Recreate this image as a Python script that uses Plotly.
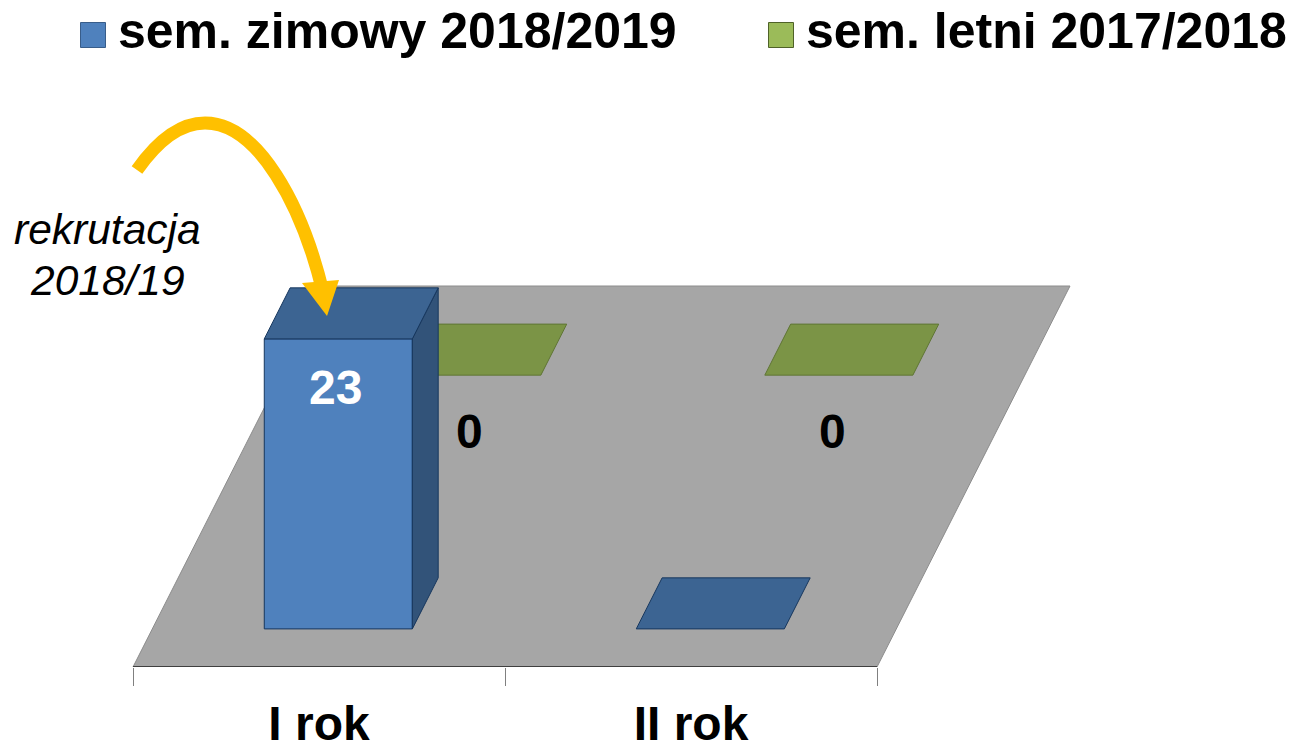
import plotly.graph_objects as go

# ---- data ----
categories = ["I rok", "II rok"]
series_names = ["sem. zimowy 2018/2019", "sem. letni 2017/2018"]
zimowy_values = [23, 0]
letni_values = [0, 0]
caption_lines = ["rekrutacja", "2018/19"]

# ---- oblique "3D" projection: (category position, depth, value) -> plot units ----
W, H, AXIS_PX = 1301, 751, 667
X0, CAT_W = 133, 372
DEPTH_DX, DEPTH_DY = 193, 381      # floor's receding edge
UNIT = 290 / 23                    # height of one value unit
BAR_OFFSET, BAR_W = 0.301, 0.398   # within one category
ROWS = {0: (0.100, 0.234), 1: (0.766, 0.900)}  # depth span of each series

def project(cat, depth, value=0):
    return (X0 + CAT_W * cat + DEPTH_DX * depth, DEPTH_DY * depth + UNIT * value)

def poly(points, fill, line="rgba(20,40,70,0.75)", width=1):
    xs, ys = zip(*points)
    return go.Scatter(x=list(xs) + [xs[0]], y=list(ys) + [ys[0]], mode="lines", fill="toself",
                      fillcolor=fill, line=dict(color=line, width=width),
                      hoverinfo="skip", showlegend=False)

def bar(i, row, value, front, top, side, line):
    c0, c1 = i + BAR_OFFSET, i + BAR_OFFSET + BAR_W
    d0, d1 = ROWS[row]
    out = []
    if value > 0:
        out.append(poly([project(c0, d0), project(c1, d0), project(c1, d0, value), project(c0, d0, value)], front, line))
        out.append(poly([project(c1, d0), project(c1, d1), project(c1, d1, value), project(c1, d0, value)], side, line))
    out.append(poly([project(c0, d0, value), project(c1, d0, value), project(c1, d1, value), project(c0, d1, value)], top, line))
    return out

fig = go.Figure()

# floor
fig.add_trace(poly([project(0, 0), project(len(categories), 0), project(len(categories), 1), project(0, 1)],
                   "#a6a6a6", "#8c8c8c", 1))

# floor's front edge acts as the axis line
edge = [project(0, 0), project(len(categories), 0)]
fig.add_trace(go.Scatter(x=[p[0] for p in edge], y=[p[1] for p in edge], mode="lines",
                         line=dict(color="#222222", width=1.5), hoverinfo="skip", showlegend=False, cliponaxis=False))

# back series first, then front series
for i, v in enumerate(letni_values):
    for t in bar(i, 1, v, "#9bbb59", "#7b9446", "#66803a", "#5f7534"):
        fig.add_trace(t)
for i, v in enumerate(zimowy_values):
    for t in bar(i, 0, v, "#4f81bd", "#3c6492", "#325379", "#17375e"):
        fig.add_trace(t)

# data labels
for i, v in enumerate(zimowy_values):
    if v > 0:
        x, y = project(i + BAR_OFFSET + BAR_W / 2, ROWS[0][0], v)
        fig.add_annotation(x=x, y=y, text=str(v), showarrow=False, yshift=-49, xshift=-3,
                           font=dict(family="Liberation Sans", size=48, color="white", weight="bold"))
for i, v in enumerate(letni_values):
    x, y = project(i + BAR_OFFSET + BAR_W / 2, ROWS[1][0], v)
    fig.add_annotation(x=x, y=y, text=str(v), showarrow=False, yshift=-56, xshift=3 - 9 * i,
                       font=dict(family="Liberation Sans", size=48, color="black", weight="bold"))

# annotation: curved arrow and its caption
def py(v):
    return AXIS_PX - v

# legend entries: swatch plus series name, placed in the band above the chart
legend_x = [93, 781]
legend_colors = ["#4f81bd", "#9bbb59"]
legend_edges = ["#385d8a", "#4f6228"]
for lx, name, color, edge_c in zip(legend_x, series_names, legend_colors, legend_edges):
    fig.add_trace(go.Scatter(x=[lx], y=[py(35)], mode="markers+text", text=["\u2006" + name],
                             textposition="middle right", showlegend=False, hoverinfo="skip", cliponaxis=False,
                             marker=dict(symbol="square", size=25, color=color, line=dict(color=edge_c, width=1)),
                             textfont=dict(family="Liberation Sans", size=50, color="black", weight="bold")))

arrow = (f"M137,{py(170)} Q170,{py(123)} 205,{py(123)} C258,{py(123)} 302,{py(205)} 323,{py(292)}")
head = f"M302,{py(283)} L339,{py(280)} L327,{py(316)} Z"
fig.add_shape(type="path", path=arrow, xref="x", yref="y", line=dict(color="#ffc000", width=13), layer="above")
fig.add_shape(type="path", path=head, xref="x", yref="y", line=dict(color="#ffc000", width=0),
              fillcolor="#ffc000", layer="above")
for line_text, line_y in zip(caption_lines, [229, 280]):
    fig.add_annotation(x=107, y=py(line_y), text=f"<i>{line_text}</i>", showarrow=False,
                       font=dict(family="Liberation Sans", size=42.5, color="black"), align="center")

centres = [X0 + CAT_W * (i + 0.5) for i in range(len(categories))]
bounds = [X0 + CAT_W * i for i in range(len(categories) + 1)]

fig.update_layout(
    width=W, height=H, margin=dict(l=0, r=0, t=0, b=H - AXIS_PX, autoexpand=False),
    paper_bgcolor="white", plot_bgcolor="white",
    font=dict(family="Liberation Sans"),
    xaxis=dict(range=[0, W], showgrid=False, zeroline=False, showline=False, automargin=False,
               tickmode="array", tickvals=centres, ticktext=categories, ticks="", ticklabelstandoff=24,
               tickfont=dict(size=48, color="black", weight="bold"),
               minor=dict(tickmode="array", tickvals=bounds, ticks="outside", ticklen=18, tickcolor="#808080", tickwidth=1),
               fixedrange=True),
    yaxis=dict(range=[0, AXIS_PX], visible=False, fixedrange=True, automargin=False),
    showlegend=False,
)

fig.write_html("out.html", post_script="document.body.style.margin='0';", config={"displayModeBar": False})
